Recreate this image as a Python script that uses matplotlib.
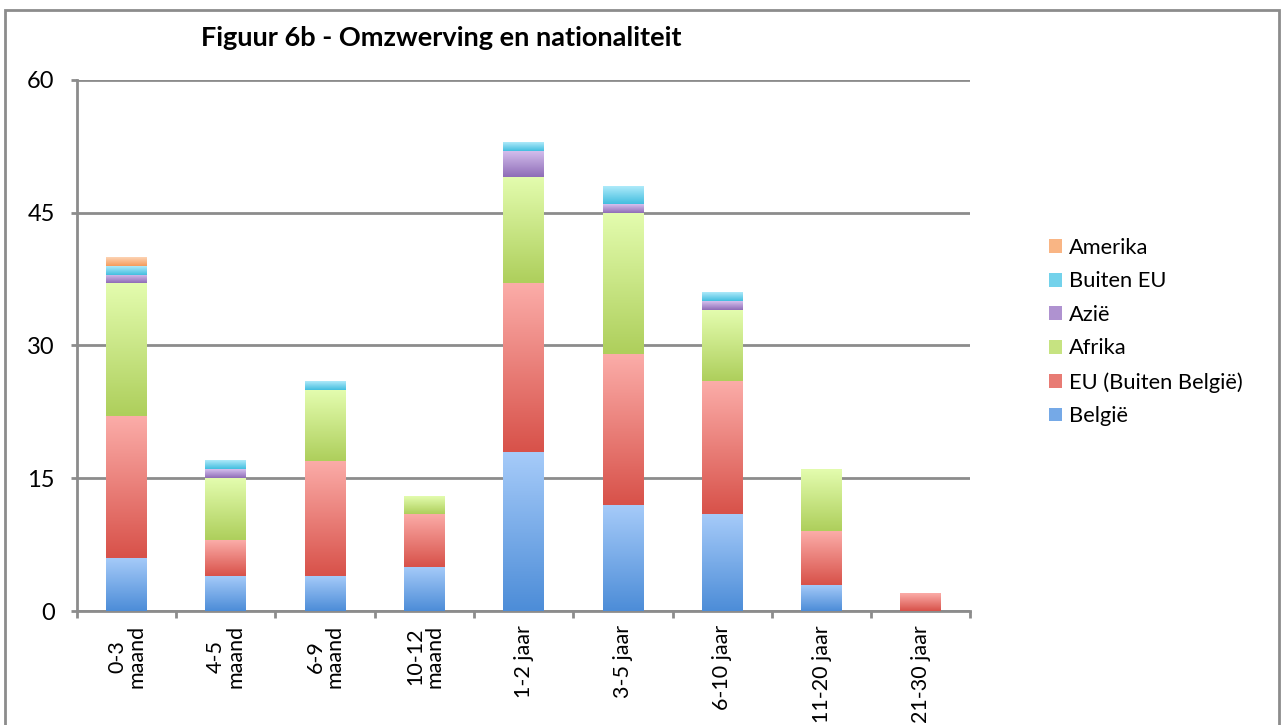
import numpy as np
import matplotlib
matplotlib.use("Agg")
import matplotlib.pyplot as plt
from matplotlib.patches import Patch, Rectangle
from matplotlib.colors import LinearSegmentedColormap

plt.rcParams['font.family'] = ['Lato', 'DejaVu Sans']

# categories and series (stacked from bottom to top)
categories = ['0-3\nmaand', '4-5\nmaand', '6-9\nmaand', '10-12\nmaand',
              '1-2 jaar', '3-5 jaar', '6-10 jaar', '11-20 jaar', '21-30 jaar']
belgie = [6, 4, 4, 5, 18, 12, 11, 3, 0]
eu_buiten_belgie = [16, 4, 13, 6, 19, 17, 15, 6, 2]
afrika = [15, 7, 8, 2, 12, 16, 8, 7, 0]
azie = [1, 1, 0, 0, 3, 1, 1, 0, 0]
buiten_eu = [1, 1, 1, 0, 1, 2, 1, 0, 0]
amerika = [1, 0, 0, 0, 0, 0, 0, 0, 0]

series_names = ['België', 'EU (Buiten België)', 'Afrika', 'Azië', 'Buiten EU', 'Amerika']
series_values = [belgie, eu_buiten_belgie, afrika, azie, buiten_eu, amerika]
# (top colour, bottom colour) of the vertical gradient
series_colors = [('#a6cbf9', '#4d8dd8'),
                 ('#fbaca8', '#d8524a'),
                 ('#e3fcae', '#aecf5c'),
                 ('#d5c0ee', '#8f6db7'),
                 ('#aeeafa', '#43bedf'),
                 ('#fdd3b4', '#f59c5c')]
y_ticks = [0, 15, 30, 45, 60]

fig = plt.figure(figsize=(12.82, 7.25), dpi=100)
ax = fig.add_axes([0.060, 0.157, 0.697, 0.733])

x = np.arange(len(categories))
bottom = np.zeros(len(categories))
grad = np.linspace(1, 0, 64).reshape(-1, 1)
for name, vals, (c_top, c_bot) in zip(series_names, series_values, series_colors):
    vals = np.array(vals, dtype=float)
    bars = ax.bar(x, vals, width=0.41, bottom=bottom, color='none', edgecolor='none', zorder=3)
    cmap = LinearSegmentedColormap.from_list(name, [c_bot, c_top])
    for b, v in zip(bars, vals):
        if v <= 0:
            continue
        x0, y0 = b.get_x(), b.get_y()
        ax.imshow(grad, cmap=cmap, aspect='auto', vmin=0, vmax=1,
                  extent=(x0, x0 + b.get_width(), y0, y0 + b.get_height()),
                  zorder=3, interpolation='bilinear')
    bottom += vals

ax.set_xlim(-0.5, len(categories) - 0.5)
ax.set_ylim(0, 60)
ax.set_yticks(y_ticks)
ax.yaxis.grid(True, color='#8c8c8c', linewidth=2, zorder=1)
ax.set_axisbelow(True)

for s in ['top', 'right']:
    ax.spines[s].set_visible(False)
for s in ['left', 'bottom']:
    ax.spines[s].set_color('#8c8c8c')
    ax.spines[s].set_linewidth(2)

ax.set_xticks(np.arange(len(categories) + 1) - 0.5)
ax.set_xticklabels([])
ax.set_xticks(x, minor=True)
ax.set_xticklabels(categories, minor=True, rotation=90, fontsize=15.5,
                   va='top', ha='center', linespacing=0.95)
ax.tick_params(axis='x', which='major', length=5, width=2, color='#8c8c8c', direction='out')
ax.tick_params(axis='x', which='minor', length=0, pad=10)
ax.tick_params(axis='y', length=4, width=2, color='#8c8c8c', labelsize=17, pad=12)

fig.text(0.344, 0.948, 'Figuur 6b - Omzwerving en nationaliteit',
         ha='center', va='center', fontsize=19.5, fontweight='bold')

handles = [Patch(facecolor=LinearSegmentedColormap.from_list('m', [c[1], c[0]])(0.45),
                 edgecolor='none', label=n)
           for n, c in zip(series_names, series_colors)][::-1]
fig.legend(handles=handles, loc='upper left', bbox_to_anchor=(0.8183, 0.672),
           frameon=False, fontsize=15.75, handlelength=0.6, handleheight=0.6,
           handletextpad=0.3, labelspacing=0.62, borderpad=0, borderaxespad=0)

# outer chart frame
fig.patches.append(Rectangle((5 / 1282, -0.05), 1274 / 1282, 1.05 - 10 / 725,
                             transform=fig.transFigure, fill=False,
                             edgecolor='#8c8c8c', linewidth=2))

fig.savefig('out.png', dpi=100)
